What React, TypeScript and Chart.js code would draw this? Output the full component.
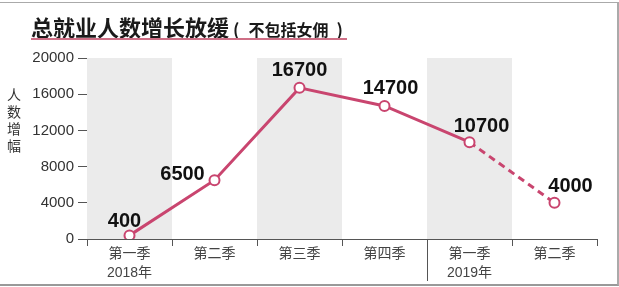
import React, { useEffect, useRef } from "react";
import { Chart, registerables } from "chart.js";

Chart.register(...registerables);

const categories: (string | string[])[] = [
  ["第一季", "2018年"],
  "第二季",
  "第三季",
  "第四季",
  ["第一季", "2019年"],
  "第二季",
];
const values: number[] = [400, 6500, 16700, 14700, 10700, 4000];
const valueLabels: string[] = ["400", "6500", "16700", "14700", "10700", "4000"];
const yTicks: number[] = [0, 4000, 8000, 12000, 16000, 20000];
const shadedIndices: number[] = [0, 2, 4];
const yearBreakAfter = 3;

const TITLE = "总就业人数增长放缓";
const SUBTITLE = "不包括女佣";
const Y_TITLE = ["人", "数", "增", "幅"];

// label offsets relative to the point (style, not data)
const LABEL_DX = [-5, -32, 0, 6, 12, 16];
const LABEL_DY = [-14, -6, -17, -17, -16, -16];

const LINE = "#c9456f";
const FONT = '"Liberation Sans", "Noto Sans CJK SC", Arial, sans-serif';

export default function App() {
  const ref = useRef<HTMLCanvasElement | null>(null);

  useEffect(() => {
    if (!ref.current) return;
    const bandsPlugin = {
      id: "bands",
      beforeDatasetsDraw(chart: any) {
        const { ctx, chartArea, scales } = chart;
        const x = scales.x;
        const half = (x.getPixelForValue(1) - x.getPixelForValue(0)) / 2;
        ctx.save();
        ctx.fillStyle = "#ebebeb";
        shadedIndices.forEach((i) => {
          const c = x.getPixelForValue(i);
          ctx.fillRect(c - half, chartArea.top, half * 2, chartArea.bottom - chartArea.top);
        });
        ctx.restore();
      },
      afterDraw(chart: any) {
        const { ctx, chartArea, scales } = chart;
        const x = scales.x;
        const bx = (x.getPixelForValue(yearBreakAfter) + x.getPixelForValue(yearBreakAfter + 1)) / 2;
        ctx.save();
        ctx.strokeStyle = "#555";
        ctx.lineWidth = 1;
        ctx.beginPath();
        ctx.moveTo(Math.round(bx) + 0.5, chartArea.bottom);
        ctx.lineTo(Math.round(bx) + 0.5, chartArea.bottom + 42);
        ctx.stroke();
        ctx.restore();
      },
    };
    const labelsPlugin = {
      id: "valueLabels",
      afterDatasetsDraw(chart: any) {
        const { ctx } = chart;
        const meta = chart.getDatasetMeta(0);
        ctx.save();
        ctx.font = `bold 20px ${FONT}`;
        ctx.fillStyle = "#111";
        ctx.textAlign = "center";
        ctx.textBaseline = "middle";
        meta.data.forEach((pt: any, i: number) => {
          ctx.fillText(valueLabels[i], pt.x + LABEL_DX[i], pt.y + LABEL_DY[i]);
        });
        ctx.restore();
      },
    };

    const chart = new Chart(ref.current, {
      type: "line",
      data: {
        labels: categories as any,
        datasets: [
          {
            data: values,
            borderColor: LINE,
            borderWidth: 3,
            pointRadius: 5,
            pointBorderWidth: 2,
            pointBackgroundColor: "#fff",
            pointBorderColor: LINE,
            tension: 0,
            segment: {
              borderDash: (c: any) => (c.p1DataIndex === values.length - 1 ? [7, 5] : undefined),
            },
          },
        ],
      },
      options: {
        animation: false,
        responsive: false,
        maintainAspectRatio: false,
        layout: { padding: { top: 58, right: 22, left: 0, bottom: 0 } },
        plugins: {
          legend: { display: false },
          tooltip: { enabled: false },
          title: { display: false },
        },
        scales: {
          x: {
            offset: true,
            grid: {
              offset: true,
              drawOnChartArea: false,
              drawTicks: true,
              tickLength: 7,
              color: "#555",
            },
            border: { color: "#555", width: 1 },
            ticks: {
              color: "#444",
              font: { family: FONT, size: 14, lineHeight: 1.4 },
              padding: -2,
              maxRotation: 0,
              autoSkip: false,
            },
            afterFit: (s: any) => {
              s.height = 48;
            },
          },
          y: {
            min: 0,
            max: 20000,
            afterBuildTicks: (s: any) => {
              s.ticks = yTicks.map((v) => ({ value: v }));
            },
            grid: {
              drawOnChartArea: false,
              drawTicks: true,
              tickLength: 9,
              color: "#555",
            },
            border: { color: "#555", width: 1 },
            ticks: {
              color: "#333",
              font: { family: FONT, size: 15 },
              padding: 4,
              callback: (v: any) => String(v),
            },
            afterFit: (s: any) => {
              s.width = 87;
            },
          },
        },
      },
      plugins: [bandsPlugin, labelsPlugin],
    } as any);
    return () => chart.destroy();
  }, []);

  return (
    <div
      style={{
        position: "absolute",
        left: 0,
        top: 0,
        width: 619,
        height: 287,
        background: "#fff",
        overflow: "hidden",
      }}
    >
      <canvas ref={ref} width={619} height={287} style={{ position: "absolute", left: 0, top: 0 }} />
      <div
        style={{
          position: "absolute",
          left: 0,
          top: 2,
          width: 617,
          height: 281,
          borderTop: "1px solid #aaa",
          borderBottom: "2px solid #999",
          borderRight: "2px solid #aaa",
          pointerEvents: "none",
        }}
      />
      <div
        style={{
          position: "absolute",
          left: 31,
          top: 12,
          whiteSpace: "nowrap",
          fontFamily: '"Noto Sans CJK SC", sans-serif',
          fontWeight: 700,
          color: "#1a1a1a",
          lineHeight: "28px",
        }}
      >
        <span style={{ fontSize: 22 }}>{TITLE}</span>
        <span style={{ fontSize: 17, marginLeft: 4 }}>(</span>
        <span style={{ fontSize: 16, marginLeft: 9, marginRight: 8 }}>{SUBTITLE}</span>
        <span style={{ fontSize: 17 }}>)</span>
      </div>
      <div
        style={{
          position: "absolute",
          left: 31,
          top: 38,
          width: 316,
          height: 2,
          background: "#cf6f86",
        }}
      />
      <div
        style={{
          position: "absolute",
          left: 6,
          top: 86,
          width: 16,
          textAlign: "center",
          fontFamily: '"Noto Sans CJK SC", sans-serif',
          fontSize: 14,
          lineHeight: "17px",
          color: "#333",
        }}
      >
        {Y_TITLE.map((c, i) => (
          <div key={i}>{c}</div>
        ))}
      </div>
    </div>
  );
}
